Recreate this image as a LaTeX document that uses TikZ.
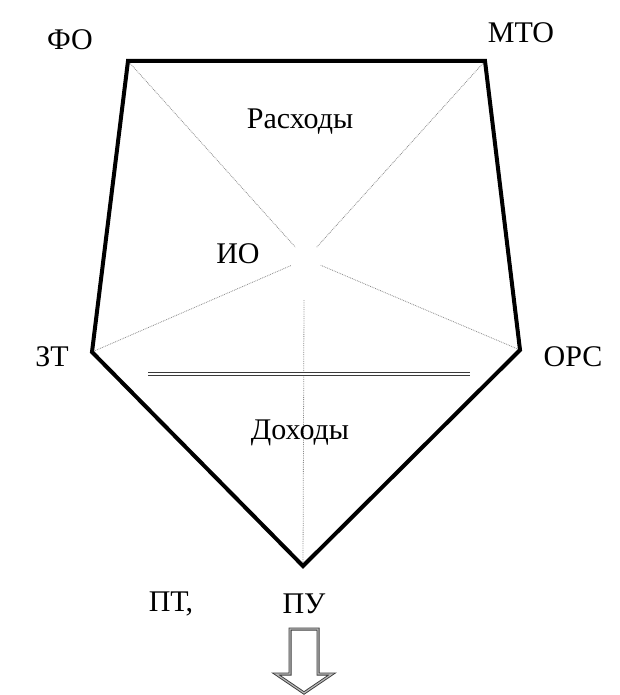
\documentclass[tikz,border=0pt]{standalone}
\usepackage{fontspec}
\setmainfont{Liberation Serif}
\usepackage{tikz}
\usetikzlibrary{arrows.meta, positioning, calc}
\usepackage{xcolor}
\definecolor{edgegray}{HTML}{8A8A8A}
\definecolor{barblack}{HTML}{3A3A3A}

\tikzset{
    lbl/.style={inner sep=0pt, font=\fontsize{30}{36}\selectfont},
    rim/.style={line width=4pt, line join=miter},
    ray/.style={edgegray, densely dotted, line width=0.8pt},
    bar/.style={barblack, double=white, double distance=1.6pt, line width=1.6pt}
}

\begin{document}
\begin{tikzpicture}[x=1pt, y=-1pt]
    \useasboundingbox (0,0) rectangle (619,695);
    % vertices of the pentagon
    \coordinate (fo)  at (128,61);
    \coordinate (mto) at (485,61);
    \coordinate (ors) at (520,350);
    \coordinate (pu)  at (303,566);
    \coordinate (zt)  at (92,352);
    \coordinate (mid) at (306,259);
    \coordinate (top) at (304,300);
    \coordinate (bl)  at (148,374);
    \coordinate (br)  at (470,374);

    % rays towards the centre
    \draw[ray, shorten >=16pt] (fo) -- (mid);
    \draw[ray, shorten >=16pt] (mto) -- (mid);
    \draw[ray, shorten >=16pt] (zt) -- (mid);
    \draw[ray, shorten >=16pt] (ors) -- (mid);
    \draw[ray] (top) -- (pu);

    \draw[rim] (fo) -- (mto) -- (ors) -- (pu) -- (zt) -- cycle;
    \draw[bar] (bl) -- (br);

    % labels
    \node[lbl] (lfo)  at (70,40)   {ФО};
    \node[lbl] (lmto) at (521,33)  {МТО};
    \node[lbl] (lras) at (300,122) {Расходы};
    \node[lbl] (lio)  at (238,254) {ИО};
    \node[lbl] (lzt)  at (52,357)  {ЗТ};
    \node[lbl] (lors) at (573,357) {ОРС};
    \node[lbl] (ldoh) at (300,433) {Доходы};
    \node[lbl] (lpt)  at (171,604) {ПТ,};
    \node[lbl] (lpu)  at (304,604) {ПУ};

    % outlined arrow below
    \draw[barblack, double=edgegray!60, double distance=1.2pt, line width=0.9pt, line join=miter]
        (290,629) -- (318,629) -- (318,674) -- (332,674) -- (304,693)
        -- (276,674) -- (290,674) -- cycle;
\end{tikzpicture}
\end{document}
